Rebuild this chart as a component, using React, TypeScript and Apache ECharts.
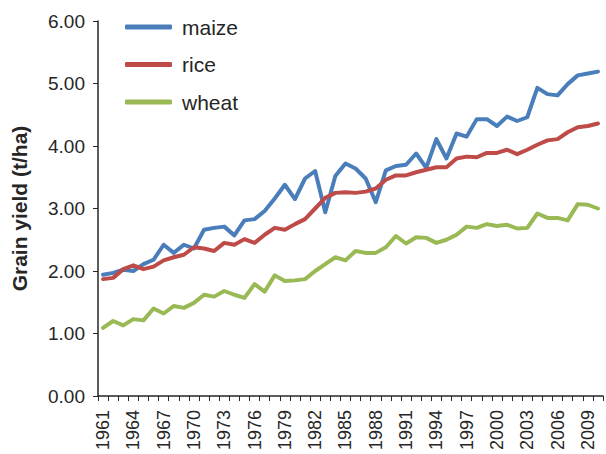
import React, { useEffect, useRef } from "react";
import * as echarts from "echarts";

const years: string[] = [];
for (let y = 1961; y <= 2010; y++) years.push(String(y));

const maize = [
  1.94, 1.97, 2.02, 2.0, 2.11, 2.18, 2.42, 2.29, 2.42, 2.36,
  2.66, 2.69, 2.71, 2.57, 2.81, 2.83, 2.96, 3.16, 3.38, 3.15,
  3.48, 3.6, 2.94, 3.52, 3.72, 3.64, 3.48, 3.1, 3.61, 3.68,
  3.7, 3.88, 3.65, 4.11, 3.8, 4.2, 4.15, 4.43, 4.43, 4.32,
  4.47, 4.4, 4.46, 4.93, 4.83, 4.81, 4.99, 5.13, 5.16, 5.19,
];
const rice = [
  1.87, 1.89, 2.03, 2.09, 2.03, 2.07, 2.17, 2.22, 2.26, 2.38,
  2.36, 2.32, 2.45, 2.42, 2.51, 2.45, 2.58, 2.69, 2.66, 2.75,
  2.83, 3.0, 3.17, 3.25, 3.26, 3.25, 3.27, 3.32, 3.46, 3.53,
  3.53, 3.58, 3.62, 3.66, 3.66, 3.8, 3.83, 3.82, 3.89, 3.89,
  3.94, 3.87, 3.94, 4.02, 4.09, 4.11, 4.22, 4.3, 4.32, 4.36,
];
const wheat = [
  1.09, 1.2, 1.13, 1.23, 1.21, 1.4, 1.32, 1.44, 1.41, 1.49,
  1.62, 1.59, 1.68, 1.62, 1.57, 1.79, 1.67, 1.93, 1.84, 1.85,
  1.87, 2.0, 2.11, 2.22, 2.17, 2.32, 2.29, 2.29, 2.38, 2.56,
  2.44, 2.54, 2.53, 2.45, 2.5, 2.58, 2.71, 2.69, 2.75, 2.72,
  2.74, 2.68, 2.69, 2.92, 2.85, 2.85, 2.81, 3.07, 3.06, 3.0,
];

const seriesNames = ["maize", "rice", "wheat"];
const seriesColors = ["#4A7EBB", "#BE4B48", "#98B954"];
const yTicks = [0, 1, 2, 3, 4, 5, 6];

export default function App() {
  const ref = useRef<HTMLDivElement>(null);
  useEffect(() => {
    if (!ref.current) return;
    const chart = echarts.init(ref.current, null, { renderer: "svg" });
    const font = "Liberation Sans, Arial, sans-serif";
    const data = [maize, rice, wheat];
    chart.setOption({
      animation: false,
      backgroundColor: "#ffffff",
      grid: { left: 98, right: 3, top: 21, bottom: 58, containLabel: false },
      legend: {
        orient: "vertical",
        left: 120,
        top: 10,
        icon: "roundRect",
        itemWidth: 47,
        itemHeight: 5,
        itemGap: 13.5,
        data: seriesNames,
        textStyle: {
          fontFamily: font,
          fontSize: 21,
          color: "#262626",
          lineHeight: 24,
          padding: [0, 0, 0, 5],
        },
      },
      xAxis: {
        type: "category",
        data: years,
        boundaryGap: true,
        axisLine: { lineStyle: { color: "#262626", width: 1.5 } },
        axisTick: { show: true, interval: 0, length: 5, lineStyle: { color: "#262626", width: 1 } },
        axisLabel: {
          interval: 2,
          rotate: 90,
          margin: 14,
          fontFamily: font,
          fontSize: 18,
          color: "#262626",
        },
        splitLine: { show: false },
      },
      yAxis: {
        type: "value",
        min: 0,
        max: 6,
        interval: 1,
        name: "Grain yield (t/ha)",
        nameLocation: "middle",
        nameRotate: 90,
        nameGap: 68,
        nameTextStyle: {
          fontFamily: font,
          fontSize: 21,
          fontWeight: "bold",
          color: "#262626",
        },
        axisLine: { show: true, lineStyle: { color: "#262626", width: 1.5 } },
        axisTick: { show: true, length: 5, lineStyle: { color: "#262626", width: 1 } },
        axisLabel: {
          margin: 13,
          fontFamily: font,
          fontSize: 19,
          color: "#262626",
          formatter: (v: number) => (yTicks.includes(v) ? v.toFixed(2) : ""),
        },
        splitLine: { show: false },
      },
      series: seriesNames.map((name, i) => ({
        name,
        type: "line",
        data: data[i],
        showSymbol: false,
        symbol: "none",
        color: seriesColors[i],
        lineStyle: { color: seriesColors[i], width: 4, join: "round", cap: "round" },
        itemStyle: { color: seriesColors[i] },
      })),
    });
    return () => chart.dispose();
  }, []);
  return <div ref={ref} style={{ width: 606, height: 454, position: "absolute", left: 0, top: 0 }} />;
}
